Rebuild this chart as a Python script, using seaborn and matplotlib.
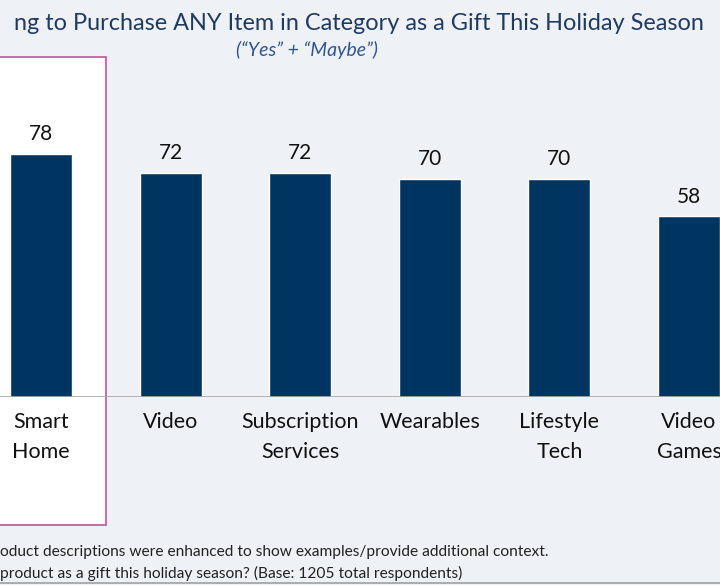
import matplotlib
matplotlib.use("Agg")
import pandas as pd
import seaborn as sns
from matplotlib import pyplot as plt
from matplotlib.patches import Rectangle

# data
categories = ["Smart\nHome", "Video", "Subscription\nServices", "Wearables", "Lifestyle\nTech", "Video\nGames"]
values = [78, 72, 72, 70, 70, 58]

# texts as far as they are visible in the (cropped) reference
title = "ng to Purchase ANY Item in Category as a Gift This Holiday Season"
subtitle = "(\u201cYes\u201d + \u201cMaybe\u201d)"
note1 = "oduct descriptions were enhanced to show examples/provide additional context."
note2 = "product as a gift this holiday season? (Base: 1205 total respondents)"

df = pd.DataFrame({"category": categories, "value": values})

sns.set_theme(style="white")
plt.rcParams["font.family"] = ["Lato", "DejaVu Sans"]

W, H = 720, 585
bg = "#EEF2F6"
navy = "#003461"

fig = plt.figure(figsize=(7.2, 5.85), dpi=100, facecolor=bg)

# pixel coords -> figure fraction
def fx(px):
    return px / W

def fy(py):
    return 1 - py / H

# highlight box behind Smart Home
box = Rectangle((fx(-5), fy(525)), fx(111), (525 - 57) / H, transform=fig.transFigure,
                facecolor="white", edgecolor="#C4609C", linewidth=1.3, zorder=-1)
fig.patches.append(box)

# axes spanning the full width; baseline at y=397 px, top at y=57 px
ax = fig.add_axes([0, fy(397), 1, (397 - 57) / H])
ax.patch.set_alpha(0)

sns.barplot(data=df, x="category", y="value", color=navy, width=0.478,
            saturation=1, ax=ax)

step = 129.6
ax.set_xlim(-41 / step, (W - 41) / step)
ax.set_ylim(0, 340 / 3.115)

for c in ax.containers:
    ax.bar_label(c, fmt="%d", padding=7, fontsize=15, color="#111111")

ax.axhline(0, color="#A6A6A6", linewidth=1.2, zorder=3)
for s in ax.spines.values():
    s.set_visible(False)
ax.set_yticks([])
ax.set_xlabel("")
ax.set_ylabel("")
ax.tick_params(axis="x", length=0, pad=11, labelsize=15.5, labelcolor="#111111")
for t in ax.get_xticklabels():
    t.set_linespacing(1.6)

fig.text(fx(704), fy(23), title, ha="right", va="center", fontsize=16.9, color="#1F3B63")
fig.text(fx(307), fy(50), subtitle, ha="center", va="center", fontsize=14,
         style="italic", color="#2E5597")
fig.text(fx(0), fy(552), note1, ha="left", va="center", fontsize=11.2, color="#222222")
fig.text(fx(0), fy(573), note2, ha="left", va="center", fontsize=11.2, color="#222222")

# bottom rule
fig.add_artist(plt.Line2D([0, 1], [fy(583), fy(583)], transform=fig.transFigure,
                          color="#A0A0A0", linewidth=1.2))

fig.savefig("out.png", dpi=100, facecolor=bg)
